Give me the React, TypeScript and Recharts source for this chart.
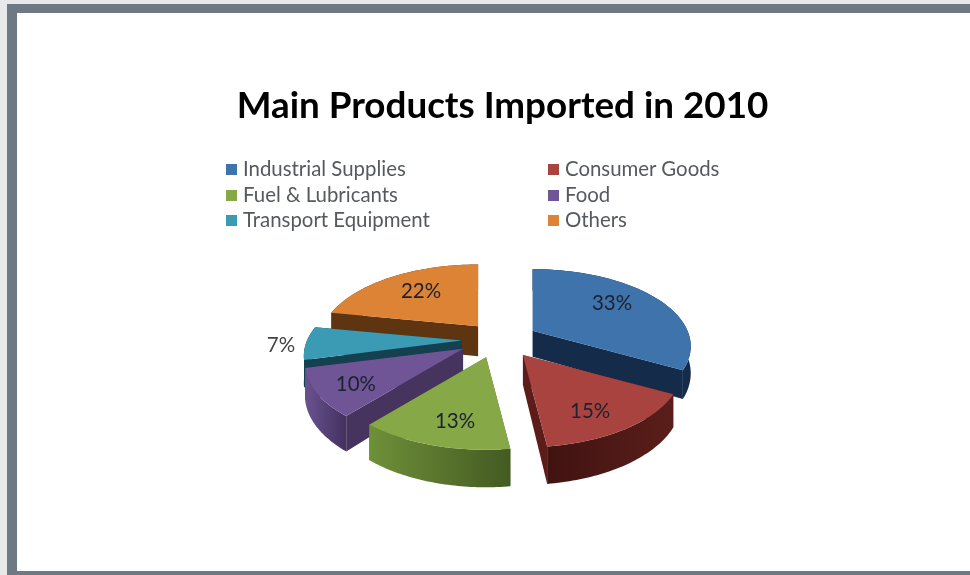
import React from "react";
import { PieChart, Pie, Legend } from "recharts";

const title = "Main Products Imported in 2010";
const categories = ["Industrial Supplies", "Consumer Goods", "Fuel & Lubricants", "Food", "Transport Equipment", "Others"];
const shares = [33, 15, 13, 10, 7, 22];
const topColors = ["#3f73ab", "#a8433f", "#86a846", "#6f5496", "#3b9ab4", "#dd8336"];
const wallColors = ["#142c49", "#5c1d1a", "#55702c", "#46345f", "#14414f", "#5f3410"];
const rimLeft = ["#142c49", "#401311", "#6f9039", "#6a5290", "#14414f", "#5f3410"];
const rimRight = ["#142c49", "#5a1e1a", "#435a22", "#43315f", "#14414f", "#5f3410"];
// painted back to front; the pie sweeps counter-clockwise so each slice keeps its place
const paintOrder = [0, 5, 4, 3, 2, 1];
const sliceShift: [number, number][] = [[-1, 0], [1, 0], [-3, 0], [-4, -1], [1, 0], [3, 0]];
const sliceDepth = [26, 30, 30, 30, 26, 30];
const labelNudge: [number, number][] = [[-10, -4], [-4, 5], [5, 3], [-5, 3], [0, 1], [7, 1]];
const labelRadius = [0.72, 0.72, 0.72, 0.72, 1.16, 0.72];

const TILT = 74 / 155;
const PERSPECTIVE = 0.2;
const EXPLODE_X = 39;
const EXPLODE_Y = 18;
const RAD = Math.PI / 180;

const tableData = paintOrder.map((i) => ({ name: categories[i], value: shares[i], index: i }));
const startAngle = 90 - (shares[0] * 360) / 100;

type P = { x: number; y: number };
function apexOf(cx: number, cy: number, mid: number, idx: number): P {
  return {
    x: cx + EXPLODE_X * Math.cos(mid * RAD) + sliceShift[idx][0],
    y: cy - EXPLODE_Y * Math.sin(mid * RAD) + sliceShift[idx][1],
  };
}
function project(apex: P, r: number, a: number, frac: number, drop = 0): P {
  const u = Math.cos(a * RAD) * frac;
  const v = -Math.sin(a * RAD) * frac;
  const s = 1 / (1 - PERSPECTIVE * v);
  return { x: apex.x + r * u * s, y: apex.y + r * TILT * v * s + drop * s };
}
const toPath = (pts: P[]) => "M" + pts.map((p) => `${p.x.toFixed(2)},${p.y.toFixed(2)}`).join("L") + "Z";

function SliceShape(props: any) {
  const { cx, cy, outerRadius: r, startAngle: a0, endAngle: a1, payload } = props;
  const idx: number = payload.index;
  const depth = sliceDepth[idx];
  const mid = (a0 + a1) / 2;
  const apex = apexOf(cx, cy, mid, idx);
  const n = 48;
  const arc: P[] = [];
  const arcLow: P[] = [];
  for (let k = 0; k <= n; k++) {
    const a = a0 + ((a1 - a0) * k) / n;
    arc.push(project(apex, r, a, 1));
    arcLow.push(project(apex, r, a, 1, depth));
  }
  const apexLow = project(apex, r, 0, 0, depth);
  const top = toPath([apex, ...arc]);
  const rim = toPath([...arc, ...arcLow.slice().reverse()]);
  const wallA = toPath([apex, arc[0], arcLow[0], apexLow]);
  const wallB = toPath([apex, arc[n], arcLow[n], apexLow]);
  const gid = `rim-${idx}`;
  return (
    <g>
      <defs>
        <linearGradient id={gid} x1="0" x2="1" y1="0" y2="0">
          <stop offset="0" stopColor={rimLeft[idx]} />
          <stop offset="1" stopColor={rimRight[idx]} />
        </linearGradient>
      </defs>
      <path d={wallA} fill={wallColors[idx]} />
      <path d={wallB} fill={wallColors[idx]} />
      <path d={rim} fill={`url(#${gid})`} />
      <path d={top} fill={topColors[idx]} />
    </g>
  );
}

function SliceLabel(props: any) {
  const { cx, cy, outerRadius: r, midAngle, payload } = props;
  const idx: number = payload.index;
  const apex = apexOf(cx, cy, midAngle, idx);
  const p = project(apex, r, midAngle, labelRadius[idx]);
  return (
    <text
      x={p.x + labelNudge[idx][0]}
      y={p.y + labelNudge[idx][1]}
      textAnchor="middle"
      dominantBaseline="central"
      fontFamily="Lato, sans-serif"
      fontSize={20.5}
      fill={idx === 4 ? "#444444" : "#1c2230"}
    >
      {`${shares[idx]}%`}
    </text>
  );
}

function LegendGrid() {
  return (
    <div style={{ position: "relative", width: 520, height: 78, fontFamily: "Lato, sans-serif", fontSize: 20.4, color: "#555a60" }}>
      {categories.map((c, i) => (
        <div
          key={c}
          style={{
            position: "absolute",
            left: i % 2 === 0 ? 0 : 322,
            top: Math.floor(i / 2) * 25.5,
            height: 25,
            lineHeight: "25px",
            whiteSpace: "nowrap",
          }}
        >
          <span style={{ display: "inline-block", width: 11, height: 11, background: topColors[i], marginRight: 6, verticalAlign: "1px" }} />
          {c}
        </div>
      ))}
    </div>
  );
}

export default function App() {
  return (
    <div style={{ position: "absolute", left: 0, top: 0, width: 970, height: 575, background: "#e6e8ea", overflow: "hidden" }}>
      <div style={{ position: "absolute", left: 7, top: 4, width: 963, height: 571, background: "#6d7a84" }} />
      <div style={{ position: "absolute", left: 17, top: 13, width: 953, height: 558, background: "#ffffff" }} />
      <div style={{ position: "absolute", left: 0, top: 0, filter: "blur(0.5px)" }}>
        <PieChart width={970} height={575} margin={{ top: 0, right: 0, bottom: 0, left: 0 }}>
          <text x={502.5} y={104} textAnchor="middle" dominantBaseline="central" fontFamily="Lato, sans-serif" fontWeight={700} fontSize={36.8} fill="#000000">
            {title}
          </text>
          <Legend
            content={<LegendGrid />}
            layout="vertical"
            wrapperStyle={{ position: "absolute", left: 226, top: 156, width: 520, height: 78 }}
          />
          <Pie
            data={tableData}
            dataKey="value"
            nameKey="name"
            cx={500}
            cy={340}
            outerRadius={155}
            startAngle={startAngle}
            endAngle={startAngle + 360}
            stroke="none"
            isAnimationActive={false}
            shape={SliceShape}
            label={SliceLabel}
            labelLine={false}
          />
        </PieChart>
      </div>
    </div>
  );
}
